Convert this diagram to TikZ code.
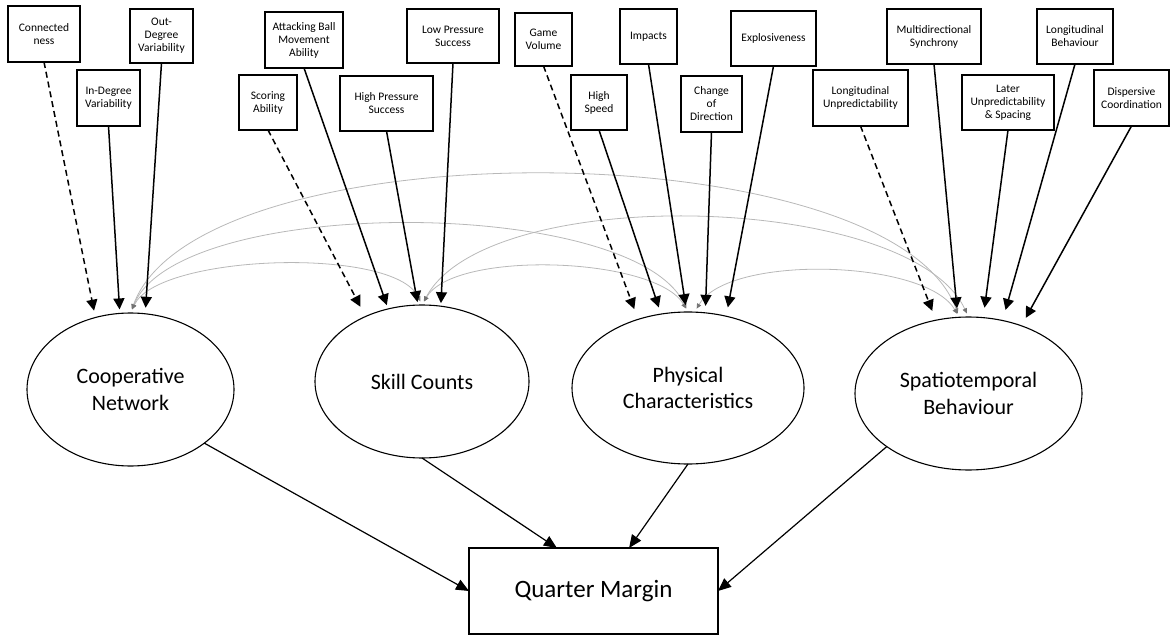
\documentclass[tikz,border=0pt]{standalone}
\usepackage{fontspec}
\setmainfont{Carlito}
\usetikzlibrary{arrows.meta,shapes.geometric,calc}

\begin{document}
\begin{tikzpicture}[x=1pt,y=-1pt,
  box/.style={draw, line width=1.2pt, align=center, inner sep=1pt, outer sep=0pt,
    font=\fontsize{11.5}{13}\selectfont},
  bx/.style 2 args={box, minimum width=#1pt, minimum height=#2pt},
  latent/.style 2 args={ellipse, draw, line width=1.1pt, align=center, inner sep=0pt,
    outer sep=0pt, minimum width=#1pt, minimum height=#2pt,
    font=\fontsize{22}{26.5}\selectfont},
  outcome/.style={draw, line width=1.2pt, outer sep=0pt, minimum width=249pt,
    minimum height=86pt, font=\fontsize{25}{30}\selectfont},
  ldg/.style={draw, line width=1.5pt, -{Triangle[length=11pt,width=11pt]}, shorten >=#1pt},
  ldg/.default=6,
  ldgfix/.style={ldg=#1, dash pattern=on 6pt off 4pt},
  ldgfix/.default=10,
  reg/.style={draw, line width=1.2pt, -{Triangle[length=13pt,width=11pt]}},
  cov/.style={draw=black!28, line width=0.8pt,
    {Triangle[length=5pt,width=4.5pt,color=black!55]}-{Triangle[length=5pt,width=4.5pt,color=black!55]},
    shorten <=4pt, shorten >=4pt}
]
\useasboundingbox (0,0) rectangle (1170,636);

% observed indicators
\node[bx={72}{56}] (conn)   at (44,34)      {Connected\\ness};
\node[bx={63}{56}] (indeg)  at (108.5,98)   {In-Degree\\Variability};
\node[bx={63}{54}] (outdeg) at (161.5,36)   {Out-\\Degree\\Variability};
\node[bx={58}{55}] (score)  at (268,102.5)  {Scoring\\Ability};
\node[bx={78}{56}] (attack) at (304,40)     {Attacking Ball\\Movement\\Ability};
\node[bx={93}{55}] (hips)   at (386.5,103.5){High Pressure\\Success};
\node[bx={92}{54}] (lops)   at (453,36)     {Low Pressure\\Success};
\node[bx={57}{53}] (gvol)   at (543.5,39.5) {Game\\Volume};
\node[bx={56}{55}] (hspd)   at (599,102.5)  {High\\Speed};
\node[bx={57}{55}] (impc)   at (648.5,36.5) {Impacts};
\node[bx={61}{56}] (cdir)   at (711.5,104)  {Change\\of\\Direction};
\node[bx={85}{55}] (expl)   at (773.5,38.5) {Explosiveness};
\node[bx={95}{56}] (lunp)   at (860.5,98)   {Longitudinal\\Unpredictability};
\node[bx={94}{55}] (msyn)   at (934,36.5)   {Multidirectional\\Synchrony};
\node[bx={92}{55}] (lusp)   at (1008,102.5) {Later\\Unpredictability\\\& Spacing};
\node[bx={76}{55}] (lbeh)   at (1075,36.5)  {Longitudinal\\Behaviour};
\node[bx={75}{56}] (dcor)   at (1131.5,98)  {Dispersive\\Coordination};

% latent factors
\node[latent={207}{153}] (coop)  at (130.5,389.5) {Cooperative\\Network};
\node[latent={214}{153}] (skill) at (422,381.5)   {Skill Counts};
\node[latent={232}{152}] (phys)  at (688,388)     {Physical\\Characteristics};
\node[latent={227}{153}] (spat)  at (968.5,393.5) {Spatiotemporal\\Behaviour};

% outcome
\node[outcome] (qm) at (593.5,591) {Quarter Margin};

% factor covariances
\draw[cov] (coop.north) to[out=65,in=115,out distance=65pt,in distance=65pt] (skill.north);
\draw[cov] (coop.north) to[out=68,in=115,out distance=128pt,in distance=128pt] (phys.north);
\draw[cov] (coop.north) to[out=70,in=110,out distance=199pt,in distance=199pt] (spat.97);
\draw[cov] (skill.north) to[out=60,in=120,out distance=64pt,in distance=64pt] (phys.north);
\draw[cov] (skill.north) to[out=62,in=115,out distance=140pt,in distance=137pt] (spat.north);
\draw[cov] (phys.85) to[out=60,in=120,out distance=67pt,in distance=67pt] (spat.97);

% loadings
\draw[ldgfix=7]  (conn.south)   -- (coop.116);
\draw[ldg=4]     (indeg.south)  -- (coop.98);
\draw[ldg=6]     (outdeg.south) -- (coop.79);
\draw[ldgfix=11] (score.south)  -- (skill.131);
\draw[ldg=4]     (attack.south) -- (skill.115);
\draw[ldg=3]     (hips.south)   -- (skill.93);
\draw[ldg=3]     (lops.south)   -- (skill.76);
\draw[ldgfix=11] (gvol.south)   -- (phys.126);
\draw[ldg=7]     (hspd.south)   -- (phys.110);
\draw[ldg=7]     (impc.south)   -- (phys.91);
\draw[ldg=7]     (cdir.south)   -- (phys.77);
\draw[ldg=9]     (expl.south)   -- (phys.62);
\draw[ldgfix=10] (lunp.south)   -- (spat.114);
\draw[ldg=9]     (msyn.south)   -- (spat.98);
\draw[ldg=10]    (lusp.south)   -- (spat.79);
\draw[ldg=11]    (lbeh.south)   -- (spat.65);
\draw[ldg=9]     (dcor.south)   -- (spat.52);

% structural paths
\draw[reg] (coop.-36) -- (qm.west);
\draw[reg] (skill.south) -- ($(qm.north west)!0.353!(qm.north east)$);
\draw[reg] (phys.south) -- ($(qm.north west)!0.643!(qm.north east)$);
\draw[reg] (spat.-147) -- (qm.east);
\end{tikzpicture}
\end{document}
